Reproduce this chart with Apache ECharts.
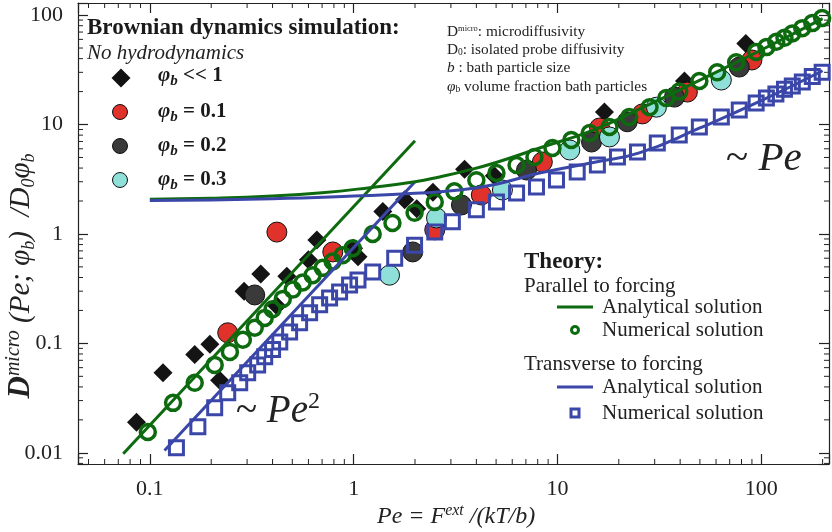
<!DOCTYPE html>
<html><head><meta charset="utf-8">
<script src="https://cdn.jsdelivr.net/npm/echarts@6/dist/echarts.min.js"></script>
<style>html,body{margin:0;padding:0;background:#fff}#c{width:832px;height:532px}</style>
</head><body><div id="c"></div>
<script>
// ---- axis extents & tick labels ----
const X_MIN = 0.0444, X_MAX = 215;
const Y_MIN = 0.0079, Y_MAX = 129;
const xTickLabels = { '-1': '0.1', '0': '1', '1': '10', '2': '100' };
const yTickLabels = { '-2': '0.01', '-1': '0.1', '0': '1', '1': '10', '2': '100' };

// ---- Brownian dynamics simulation data [Pe, D] ----
const phiSmall = [[0.086,0.019],[0.116,0.054],[0.166,0.079],[0.197,0.098],[0.22,0.046],[0.29,0.30],[0.35,0.43],[0.42,0.22],[0.47,0.41],[0.60,0.58],[0.66,0.88],[1.0,0.74],[1.05,0.62],[1.39,1.6],[1.78,2.05],[2.04,1.7],[2.45,2.4],[3.5,3.9],[4.9,3.4],[17,13],[42,25],[84,55]];
const phi01 = [[0.241,0.125],[0.42,1.04],[0.79,0.685],[2.5,1.09],[4.23,2.27],[8.43,4.54],[16.1,9.3],[26.1,12.5],[43.4,19.8],[90,38.9]];
const phi02 = [[0.327,0.277],[1.95,0.685],[3.38,1.84],[7.05,3.84],[14.7,6.92],[22,10.6],[37.5,17.8],[78,33.5]];
const phi03 = [[1.5,0.42],[2.55,1.4],[5.37,2.52],[11.5,5.85],[18,7.7],[30.6,14.4],[63.7,25.5]];

// ---- Theory ----
const parNumerical = [[0.0977,0.0155],[0.130,0.0286],[0.166,0.0436],[0.208,0.0636],[0.247,0.0836],[0.286,0.108],[0.327,0.139],[0.366,0.171],[0.40,0.205],[0.449,0.255],[0.502,0.31],[0.562,0.36],[0.629,0.42],[0.705,0.49],[0.789,0.56],[0.883,0.64],[0.989,0.74],[1.24,1.0],[1.55,1.26],[1.99,1.56],[2.5,1.96],[3.12,2.45],[4.0,3.1],[5.02,3.61],[6.3,4.27],[7.71,5.05],[9.45,6.1],[11.7,7.22],[14.4,8.36],[18,9.49],[22.5,11.7],[28.3,14.4],[34.2,17.5],[39.6,20],[49.7,25],[60.8,30],[75.3,37],[94.4,46],[106,51],[118.5,57],[130,62],[142,68],[159,76],[178,84.5],[199,94]];
const perpNumerical = [[0.135,0.0111],[0.172,0.0173],[0.208,0.0258],[0.241,0.0353],[0.276,0.0436],[0.302,0.0538],[0.338,0.0636],[0.366,0.0753],[0.40,0.088],[0.434,0.103],[0.485,0.127],[0.543,0.154],[0.608,0.19],[0.681,0.225],[0.762,0.26],[0.853,0.295],[0.955,0.342],[1.05,0.38],[1.24,0.45],[1.59,0.60],[1.99,0.79],[2.5,1.04],[3.05,1.29],[4.0,1.66],[5.02,1.96],[6.3,2.37],[7.89,2.69],[9.89,3.11],[12.5,3.68],[15.7,4.27],[19.7,5.05],[24.7,5.61],[30.9,6.78],[39.6,8.02],[49.7,9.49],[63.7,11.7],[78,13.6],[94.4,15.7],[106,17.5],[118,19],[130,21],[142,22.5],[159,24.5],[178,27.5],[199,30]];
const parAnalyticLow = [[0.074,0.0098],[2.0,7.1]];
const perpAnalyticLow = [[0.118,0.0105],[2.0,3.0]];
const parAnalyticHigh = [[0.1,2.08],[0.2,2.12],[0.4,2.22],[0.7,2.38],[1.2,2.65],[2,3.0],[2.64,3.32],[3.5,3.75],[5,4.5],[8.17,6.1],[15,8.9],[25.2,13.8],[50,25.5],[100,48],[200,93]];
const perpAnalyticHigh = [[0.1,2.02],[0.4,2.1],[1,2.22],[2,2.35],[3.3,2.52],[5,2.85],[8.17,3.6],[15,4.5],[25.2,5.5],[50,9.3],[100,16.5],[200,31]];

// minor tick positions (2..9 x 10^k)
const minorX = [], minorY = [];
for (let k = -3; k <= 3; k++) for (let m = 2; m <= 9; m++) {
  const v = m * Math.pow(10, k);
  if (v > X_MIN && v < X_MAX) minorX.push([v, Y_MIN]);
  if (v > Y_MIN && v < Y_MAX) minorY.push([X_MIN, v]);
}

const GREEN = '#0d6a0f', BLUE = '#3a47a8', RED = '#e0312a', GRAY = '#3a3a3a', CYAN = '#8fe0d8';
const SERIF = '"Liberation Serif", "DejaVu Serif", serif';
const AX = '#222';

function lbl(map) { return v => { const l = Math.round(Math.log10(v)); return Math.abs(Math.log10(v) - l) < 1e-6 ? (map[String(l)] || '') : ''; }; }

const chart = echarts.init(document.getElementById('c'), null, { renderer: 'canvas' });

function logAxis(min, max, pos, labels, isX) {
  return {
    type: 'log', min: min, max: max, position: pos,
    axisLine: { show: true, lineStyle: { color: AX, width: 1.2 } },
    axisTick: { show: true, inside: true, length: 10, lineStyle: { color: AX, width: 1.2 } },
    axisLabel: labels ? { show: true, formatter: lbl(labels), fontFamily: SERIF, fontSize: 22, color: '#222', margin: isX ? 14 : 15 } : { show: false },
    splitLine: { show: false }, minorTick: { show: false }
  };
}

function tickRender(isX) {
  return function (params, api) {
    const cs = params.coordSys;
    const p = api.coord([api.value(0), api.value(1)]);
    const st = { stroke: AX, lineWidth: 1 };
    if (isX) {
      return { type: 'group', children: [
        { type: 'line', shape: { x1: p[0], y1: cs.y + cs.height, x2: p[0], y2: cs.y + cs.height - 5 }, style: st },
        { type: 'line', shape: { x1: p[0], y1: cs.y, x2: p[0], y2: cs.y + 5 }, style: st } ] };
    }
    return { type: 'group', children: [
      { type: 'line', shape: { x1: cs.x, y1: p[1], x2: cs.x + 5, y2: p[1] }, style: st },
      { type: 'line', shape: { x1: cs.x + cs.width, y1: p[1], x2: cs.x + cs.width - 5, y2: p[1] }, style: st } ] };
  };
}

const colored = (name, data, color, size) => ({
  name, type: 'scatter', data, symbol: 'circle', symbolSize: size,
  itemStyle: { color, borderColor: '#111', borderWidth: 1, opacity: 1 }, silent: true
});
const aline = (data, color, smooth) => ({
  type: 'line', data, showSymbol: false, smooth: smooth, symbol: 'none',
  lineStyle: { color, width: 3, opacity: 1 }, silent: true
});

const rs = (size, extra) => Object.assign({ fontFamily: SERIF, fontSize: size, fill: '#222' }, extra || {});

const graphic = [
  { type: 'text', x: 87, y: 28, style: { text: 'Brownian dynamics simulation:', font: 'bold 23px ' + SERIF, fill: '#1a1a1a', verticalAlign: 'middle' } },
  { type: 'text', x: 87, y: 53, style: { text: 'No hydrodynamics', font: 'italic 21px ' + SERIF, fill: '#222', verticalAlign: 'middle' } },
  { type: 'polygon', shape: { points: [[121, 68.5], [130.5, 78], [121, 87.5], [111.5, 78]] }, style: { fill: '#111' } },
  { type: 'circle', shape: { cx: 120, cy: 112, r: 7.5 }, style: { fill: RED, stroke: '#111', lineWidth: 1 } },
  { type: 'circle', shape: { cx: 120, cy: 146, r: 7.5 }, style: { fill: GRAY, stroke: '#111', lineWidth: 1 } },
  { type: 'circle', shape: { cx: 120, cy: 180, r: 7.5 }, style: { fill: CYAN, stroke: '#111', lineWidth: 1 } }
];
const phiLabels = [[' << 1', 76], [' = 0.1', 112], [' = 0.2', 146], [' = 0.3', 180]];
phiLabels.forEach(([t, y]) => graphic.push({ type: 'text', x: 158, y: y, style: {
  text: '{p|φ}{s|b}{t|' + t + '}', verticalAlign: 'middle',
  rich: { p: { fontFamily: SERIF, fontSize: 21, fontStyle: 'italic', fontWeight: 'bold', fill: '#1a1a1a', lineHeight: 26, verticalAlign: 'middle' },
          s: { fontFamily: SERIF, fontSize: 15, fontStyle: 'italic', fontWeight: 'bold', fill: '#1a1a1a', verticalAlign: 'bottom' },
          t: { fontFamily: SERIF, fontSize: 21, fontWeight: 'bold', fill: '#1a1a1a', verticalAlign: 'middle' } } } }));

const noteRich = { n: rs(15.3), i: rs(15.3, { fontStyle: 'italic' }), sup: rs(8.5, { verticalAlign: 'top' }), sub: rs(9.5, { verticalAlign: 'bottom' }) };
[['{n|D}{sup|micro}{n|: microdiffusivity}', 32], ['{n|D}{sub|0}{n|: isolated probe diffusivity}', 50], ['{i|b}{n| : bath particle size}', 68], ['{i|φ}{sub|b}{n| volume fraction bath particles}', 87]]
  .forEach(([t, y]) => graphic.push({ type: 'text', x: 447, y: y, style: { text: t, rich: noteRich, verticalAlign: 'middle' } }));

graphic.push({ type: 'text', x: 726, y: 159, style: { text: '{t|~ }{i|Pe}', verticalAlign: 'middle', rich: { t: rs(41), i: rs(41, { fontStyle: 'italic' }) } } });
graphic.push({ type: 'text', x: 236, y: 412, style: { text: '{t|~ }{i|Pe}{s|2}', verticalAlign: 'middle', rich: { t: rs(39, { lineHeight: 44 }), i: rs(39, { fontStyle: 'italic', lineHeight: 44 }), s: rs(24, { verticalAlign: 'top' }) } } });

const LF = '21px ' + SERIF;
graphic.push({ type: 'text', x: 524, y: 262, style: { text: 'Theory:', font: 'bold 23px ' + SERIF, fill: '#1a1a1a', verticalAlign: 'middle' } });
graphic.push({ type: 'text', x: 524, y: 286, style: { text: 'Parallel to forcing', font: LF, fill: '#222', verticalAlign: 'middle' } });
graphic.push({ type: 'line', shape: { x1: 557, y1: 307, x2: 593, y2: 307 }, style: { stroke: GREEN, lineWidth: 3 } });
graphic.push({ type: 'text', x: 602, y: 307, style: { text: 'Analytical solution', font: LF, fill: '#222', verticalAlign: 'middle' } });
graphic.push({ type: 'circle', shape: { cx: 575, cy: 330, r: 3.5 }, style: { fill: 'none', stroke: GREEN, lineWidth: 3 } });
graphic.push({ type: 'text', x: 602, y: 330, style: { text: 'Numerical solution', font: LF, fill: '#222', verticalAlign: 'middle' } });
graphic.push({ type: 'text', x: 524, y: 364, style: { text: 'Transverse to forcing', font: LF, fill: '#222', verticalAlign: 'middle' } });
graphic.push({ type: 'line', shape: { x1: 557, y1: 387, x2: 593, y2: 387 }, style: { stroke: BLUE, lineWidth: 3 } });
graphic.push({ type: 'text', x: 602, y: 387, style: { text: 'Analytical solution', font: LF, fill: '#222', verticalAlign: 'middle' } });
graphic.push({ type: 'rect', shape: { x: 571, y: 409, width: 8, height: 8 }, style: { fill: 'none', stroke: BLUE, lineWidth: 3 } });
graphic.push({ type: 'text', x: 602, y: 413, style: { text: 'Numerical solution', font: LF, fill: '#222', verticalAlign: 'middle' } });

graphic.push({ type: 'text', x: 377, y: 517, style: { text: '{i|Pe = F}{s|ext}{i| /(kT/b)}', verticalAlign: 'middle',
  rich: { i: rs(24, { fontStyle: 'italic', lineHeight: 28 }), s: rs(16, { fontStyle: 'italic', verticalAlign: 'top' }) } } });
graphic.push({ type: 'text', x: 21, y: 276, rotation: Math.PI / 2, style: { text: '{d|D}{s|micro}{i| (Pe; φ}{b|b}{i|)  /D}{b|0}{i|φ}{b|b}', align: 'center', verticalAlign: 'middle',
  rich: { d: rs(31, { fontStyle: 'italic', fontWeight: 'bold', lineHeight: 34 }), i: rs(29, { fontStyle: 'italic', lineHeight: 34 }),
          s: rs(20, { fontStyle: 'italic', verticalAlign: 'top' }), b: rs(18, { fontStyle: 'italic', verticalAlign: 'bottom' }) } } });

chart.setOption({
  animation: false,
  backgroundColor: '#fff',
  grid: { left: 78, top: 3, width: 752, height: 461, containLabel: false },
  xAxis: [logAxis(X_MIN, X_MAX, 'bottom', xTickLabels, true), logAxis(X_MIN, X_MAX, 'top', null, true)],
  yAxis: [logAxis(Y_MIN, Y_MAX, 'left', yTickLabels, false), logAxis(Y_MIN, Y_MAX, 'right', null, false)],
  series: [
    { type: 'custom', data: minorX, renderItem: tickRender(true), silent: true, clip: false, z: 1 },
    { type: 'custom', data: minorY, renderItem: tickRender(false), silent: true, clip: false, z: 1 },
    { name: 'phi<<1', type: 'scatter', data: phiSmall, symbol: 'diamond', symbolSize: 19, itemStyle: { color: '#141414', opacity: 1 }, silent: true },
    colored('phi0.1', phi01, RED, 20),
    colored('phi0.2', phi02, GRAY, 20),
    colored('phi0.3', phi03, CYAN, 20),
    aline(parAnalyticLow, GREEN, false),
    aline(perpAnalyticLow, BLUE, false),
    aline(parAnalyticHigh, GREEN, true),
    aline(perpAnalyticHigh, BLUE, true),
    { type: 'scatter', data: parNumerical, symbol: 'circle', symbolSize: 15, itemStyle: { color: 'rgba(0,0,0,0)', borderColor: GREEN, borderWidth: 3.5, opacity: 1 }, silent: true },
    { type: 'scatter', data: perpNumerical, symbol: 'rect', symbolSize: 14, itemStyle: { color: 'rgba(0,0,0,0)', borderColor: BLUE, borderWidth: 3, opacity: 1 }, silent: true }
  ],
  graphic: graphic
});
</script></body></html>
